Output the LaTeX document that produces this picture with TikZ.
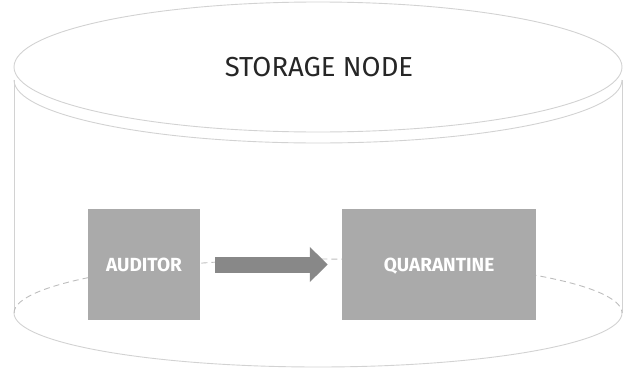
\documentclass[tikz,border=0pt]{standalone}
\usepackage{fontspec}
\setmainfont{Fira Sans}
\usetikzlibrary{arrows.meta,positioning}
\definecolor{rimgray}{HTML}{D2D2D2}
\definecolor{boxgray}{HTML}{AAAAAA}
\definecolor{flowgray}{HTML}{888888}
\tikzset{
  rim/.style={draw=rimgray, line width=0.9pt},
  backrim/.style={draw=rimgray!90!black, line width=0.9pt, dash pattern=on 6pt off 4pt},
  proc/.style={fill=boxgray, text=white, font=\fontsize{19}{21}\selectfont\bfseries,
    minimum height=111pt, inner sep=0pt, text depth=0pt},
  flow/.style={draw=flowgray, line width=16pt, -{Triangle[length=18pt,width=34pt]}}
}
\begin{document}
\begin{tikzpicture}[x=1pt,y=1pt]
  \useasboundingbox (0,0) rectangle (624,368);

  % cylinder body
  \draw[rim] (318,301) ellipse [x radius=304, y radius=65];
  \draw[rim] (14,288) arc [start angle=180, end angle=360, x radius=304, y radius=63];
  \draw[rim] (14,288) -- (14,55);
  \draw[rim] (622,288) -- (622,55);
  \draw[backrim] (14,55) arc [start angle=180, end angle=0, x radius=304, y radius=54];
  \draw[rim] (14,55) arc [start angle=180, end angle=360, x radius=304, y radius=54];

  \node[text=black!85, font=\fontsize{27.5}{30}\selectfont] (title) at (319,301) {STORAGE NODE};

  % processes
  \node[proc, minimum width=112pt] (aud) at (144,103.5) {AUDITOR};
  \node[proc, minimum width=194pt] (quar) at (439,103.5) {QUARANTINE};

  \draw[flow] ([xshift=15pt]aud.east) -- ([xshift=-14pt]quar.west);
\end{tikzpicture}
\end{document}
